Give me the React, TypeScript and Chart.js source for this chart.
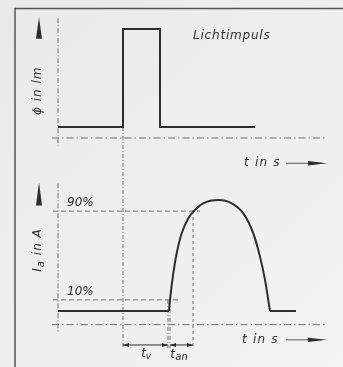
import { useEffect, useRef } from "react";
import { Chart, registerables } from "chart.js";

Chart.register(...registerables);

// Time axis (arbitrary units, shared by both traces)
const TIME_AXIS = [-0.6, 26.9];

// Light pulse Φ(t), normalised
const PULSE_T = [0, 6.5, 6.5, 10.2, 10.2, 19.7];
const PULSE_PHI = [0, 0, 1, 1, 0, 0];

// Anode current I_a(t) in % of its peak
const DARK_T = [0, 11.1];
const DARK_I = [0, 0];
const ARCH_T = [11.1, 11.2, 11.53, 11.87, 12.37, 13.03, 13.53, 14.53, 16.03, 17.37, 18.53, 19.53, 20.2, 20.7, 21.2];
const ARCH_I = [0, 10, 34, 52, 70, 83.5, 89.5, 97, 100, 97, 88, 70, 49, 28, 0];
const TAIL_T = [21.2, 23.8];
const TAIL_I = [0, 0];

// Reference levels and marked instants
const LEVELS = [90, 10];
const LEVEL_LABELS = ["90%", "10%"];
const LEVEL_ENDS = [14.2, 12.0];
const T_DELAY_START = 6.5;
const T_DELAY_END = 11.0;
const T_RISE_START = 11.2;
const T_RISE_END = 13.5;

// Where the dash-dot time axes sit in each trace's units
const PHI_AXIS = -0.112;
const I_AXIS = -12.3;

const INK = "#2e2e2e";
const GUIDE = "#6e6e6e";
const FONT = "italic 12px 'DejaVu Sans'";

const pts = (xs: number[], ys: number[]) => xs.map((x, i) => ({ x, y: ys[i] }));

function App() {
  const ref = useRef<HTMLCanvasElement | null>(null);

  useEffect(() => {
    const canvas = ref.current;
    if (!canvas) return;

    const line = (ctx: CanvasRenderingContext2D, x1: number, y1: number, x2: number, y2: number, dash: number[], color = GUIDE, w = 1) => {
      ctx.save();
      ctx.strokeStyle = color;
      ctx.lineWidth = w;
      ctx.setLineDash(dash);
      ctx.beginPath();
      ctx.moveTo(x1, y1);
      ctx.lineTo(x2, y2);
      ctx.stroke();
      ctx.restore();
    };

    const tri = (ctx: CanvasRenderingContext2D, p: [number, number][]) => {
      ctx.save();
      ctx.fillStyle = INK;
      ctx.beginPath();
      ctx.moveTo(p[0][0], p[0][1]);
      p.slice(1).forEach(([a, b]) => ctx.lineTo(a, b));
      ctx.closePath();
      ctx.fill();
      ctx.restore();
    };

    const text = (ctx: CanvasRenderingContext2D, s: string, x: number, y: number, align: CanvasTextAlign = "left", spacing = "0.8px") => {
      ctx.save();
      ctx.font = FONT;
      ctx.fillStyle = INK;
      ctx.textAlign = align;
      ctx.textBaseline = "middle";
      (ctx as any).letterSpacing = spacing;
      ctx.fillText(s, x, y);
      ctx.restore();
    };

    const dashDot = [7, 3, 1.5, 3];

    const decor = {
      id: "decor",
      beforeDraw(chart: Chart) {
        const ctx = chart.ctx;
        const { width, height } = chart;
        const xs = chart.scales.x;
        const yP = chart.scales.yPhi;
        const yI = chart.scales.yI;
        const X = (v: number) => xs.getPixelForValue(v);

        // paper
        const g = ctx.createLinearGradient(0, 0, width, height);
        g.addColorStop(0, "#e9e9e9");
        g.addColorStop(1, "#f3f3f3");
        ctx.save();
        ctx.fillStyle = g;
        ctx.fillRect(0, 0, width, height);
        ctx.restore();

        // frame
        line(ctx, 15, 8.5, width, 8.5, [], "#555", 1.5);
        line(ctx, 15, 8, 15, height, [], "#555", 1.5);

        // time axes
        line(ctx, X(TIME_AXIS[0]), yP.getPixelForValue(PHI_AXIS), X(TIME_AXIS[1]), yP.getPixelForValue(PHI_AXIS), dashDot);
        line(ctx, X(TIME_AXIS[0]), yI.getPixelForValue(I_AXIS), X(TIME_AXIS[1]), yI.getPixelForValue(I_AXIS), dashDot);

        // value axes
        line(ctx, X(0), yP.getPixelForValue(1.11), X(0), yP.getPixelForValue(-0.19), [5, 2, 1, 2]);
        line(ctx, X(0), yI.getPixelForValue(115), X(0), yI.getPixelForValue(-19), [5, 2, 1, 2]);

        // 90% / 10% levels
        LEVELS.forEach((lv, i) => {
          line(ctx, X(TIME_AXIS[0] + 0.1), yI.getPixelForValue(lv), X(LEVEL_ENDS[i]), yI.getPixelForValue(lv), [5, 3]);
        });

        // extension lines down to the dimension line
        const dimY = yI.getPixelForValue(-30.6);
        const extBottom = yI.getPixelForValue(-33.5);
        line(ctx, X(T_DELAY_START), yP.getPixelForValue(0), X(T_DELAY_START), extBottom, [4, 2, 1, 2]);
        line(ctx, X(T_DELAY_END), yI.getPixelForValue(10), X(T_DELAY_END), extBottom, [4, 2, 1, 2]);
        line(ctx, X(T_RISE_START), yI.getPixelForValue(10), X(T_RISE_START), extBottom, [4, 2, 1, 2]);
        line(ctx, X(T_RISE_END), yI.getPixelForValue(90), X(T_RISE_END), extBottom, [3, 3]);

        // dimension arrows t_v and t_an
        const dim = (a: number, b: number) => {
          line(ctx, a, dimY, b, dimY, [], INK, 1);
          tri(ctx, [[a, dimY], [a + 6, dimY - 2], [a + 6, dimY + 2]]);
          tri(ctx, [[b, dimY], [b - 6, dimY - 2], [b - 6, dimY + 2]]);
        };
        dim(X(T_DELAY_START), X(T_DELAY_END));
        dim(X(T_RISE_START), X(T_RISE_END));
      },
      afterDatasetsDraw(chart: Chart) {
        const ctx = chart.ctx;
        const xs = chart.scales.x;
        const yP = chart.scales.yPhi;
        const yI = chart.scales.yI;
        const X = (v: number) => xs.getPixelForValue(v);

        text(ctx, "Lichtimpuls", X(13.5), yP.getPixelForValue(0.93));

        // "t in s ——►" for both traces
        [yP.getPixelForValue(-0.37), yI.getPixelForValue(-26)].forEach((y, i) => {
          const x0 = i === 0 ? X(18.6) : X(18.4);
          text(ctx, "t in s", x0, y, "left", "1.2px");
          line(ctx, X(22.8), y, X(25.4), y, [], INK, 0.8);
          tri(ctx, [[X(26.9), y], [X(25.0), y - 2.2], [X(25.0), y + 2.2]]);
        });

        // value-axis labels with upward arrows
        const axX = X(-2.0);
        const vLabel = (cy: number, draw: () => void) => {
          ctx.save();
          ctx.translate(axX, cy);
          ctx.rotate(-Math.PI / 2);
          draw();
          ctx.restore();
        };
        vLabel(yP.getPixelForValue(0.37), () => text(ctx, "ϕ in lm", 0, 0, "center", "1px"));
        vLabel(yI.getPixelForValue(55), () => {
          ctx.save();
          ctx.font = FONT;
          (ctx as any).letterSpacing = "1px";
          const main = "I";
          const rest = " in A";
          const sub = "a";
          const wMain = ctx.measureText(main).width;
          ctx.font = "italic 10px 'DejaVu Sans'";
          const wSub = ctx.measureText(sub).width;
          ctx.font = FONT;
          const wRest = ctx.measureText(rest).width;
          const start = -(wMain + wSub + wRest) / 2;
          ctx.fillStyle = INK;
          ctx.textBaseline = "middle";
          ctx.fillText(main, start, 0);
          ctx.font = "italic 10px 'DejaVu Sans'";
          ctx.fillText(sub, start + wMain, 3);
          ctx.font = FONT;
          ctx.fillText(rest, start + wMain + wSub, 0);
          ctx.restore();
        });
        const arrowUp = (tip: number, base: number) => tri(ctx, [[axX + 1, tip], [axX - 2, base], [axX + 4, base]]);
        arrowUp(yP.getPixelForValue(1.12), yP.getPixelForValue(0.9));
        arrowUp(yI.getPixelForValue(116), yI.getPixelForValue(95));

        // level labels
        LEVELS.forEach((lv, i) => {
          text(ctx, LEVEL_LABELS[i], X(0.9), yI.getPixelForValue(lv) - 8, "left", "0px");
        });

        // t_v and t_an labels
        const labY = yI.getPixelForValue(-38.5);
        ctx.save();
        ctx.font = FONT;
        ctx.fillStyle = INK;
        ctx.textBaseline = "middle";
        ctx.textAlign = "center";
        const cv = (X(T_DELAY_START) + X(T_DELAY_END)) / 2;
        ctx.fillText("t", cv - 2, labY);
        ctx.font = "italic 9px 'DejaVu Sans'";
        ctx.fillText("v", cv + 3, labY + 3);
        ctx.font = FONT;
        const ca = (X(T_RISE_START) + X(T_RISE_END)) / 2 - 4;
        ctx.fillText("t", ca - 5, labY + 1);
        ctx.font = "italic 10px 'DejaVu Sans'";
        ctx.fillText("an", ca + 4, labY + 4);
        ctx.restore();
      },
    };

    const ds = (data: { x: number; y: number }[], yAxisID: string, extra = {}) => ({
      data,
      yAxisID,
      borderColor: INK,
      borderWidth: 2,
      pointRadius: 0,
      fill: false,
      tension: 0,
      ...extra,
    });

    const chart = new Chart(canvas, {
      type: "line",
      data: {
        datasets: [
          ds(pts(PULSE_T, PULSE_PHI), "yPhi"),
          ds(pts(DARK_T, DARK_I), "yI"),
          ds(pts(ARCH_T, ARCH_I), "yI", { cubicInterpolationMode: "monotone" }),
          ds(pts(TAIL_T, TAIL_I), "yI"),
        ],
      },
      options: {
        responsive: false,
        animation: false,
        devicePixelRatio: 1,
        layout: { padding: 0 },
        plugins: { legend: { display: false }, tooltip: { enabled: false } },
        scales: {
          x: { type: "linear", min: -5.8, max: 28.5, display: false },
          yPhi: { type: "linear", position: "left", min: -2.449, max: 1.296, display: false },
          yI: { type: "linear", position: "left", min: -50.45, max: 280.2, display: false },
        },
      },
      plugins: [decor],
    });

    return () => chart.destroy();
  }, []);

  return (
    <div style={{ position: "absolute", left: 0, top: 0, width: 343, height: 367 }}>
      <canvas ref={ref} width={343} height={367} />
    </div>
  );
}

export default App;
